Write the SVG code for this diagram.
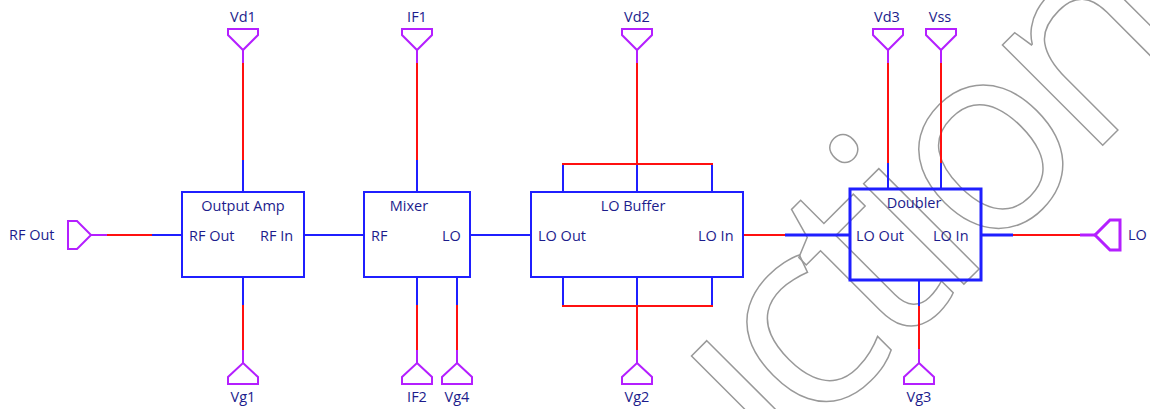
<svg xmlns="http://www.w3.org/2000/svg" width="1150" height="409" viewBox="0 0 1150 409">
<style>
.box{fill:none;stroke:#1f1fff;stroke-width:2}
.box3{fill:none;stroke:#1f1fff;stroke-width:3}
.b{stroke:#1f1fff;stroke-width:2;fill:none}
.b3{stroke:#1f1fff;stroke-width:3;fill:none}
.r{stroke:#ff1010;stroke-width:2;fill:none}
.p{stroke:#b41fff;stroke-width:2;fill:none}
.p3{stroke:#b41fff;stroke-width:3;fill:none}
text{font-family:"Open Sans","Liberation Sans",sans-serif;font-size:14.5px;fill:#1c1c8c}
.m{text-anchor:middle}
.wm{font-family:"Open Sans","Liberation Sans",sans-serif;font-size:265px;letter-spacing:-15px;fill:none;stroke:#999;stroke-width:1.5}
</style>
<defs><clipPath id="wmclip"><rect x="640" y="0" width="510" height="409"/></clipPath></defs>
<rect width="1150" height="409" fill="#fff"/>
<g id="watermark" clip-path="url(#wmclip)"><text class="wm" transform="translate(334,914) rotate(-45)">Production</text></g>
<g id="connectors">
<line class="p" x1="91" y1="235" x2="107" y2="235"/><line class="r" x1="107" y1="235" x2="152" y2="235"/><line class="b" x1="152" y1="235" x2="182" y2="235"/>
<line class="b" x1="304" y1="235" x2="364" y2="235"/>
<line class="b" x1="470" y1="235" x2="531" y2="235"/>
<line class="r" x1="743" y1="235" x2="785" y2="235"/><line class="b3" x1="785" y1="235" x2="850" y2="235"/>
<line class="b3" x1="981" y1="235" x2="1013" y2="235"/><line class="r" x1="1013" y1="235" x2="1080" y2="235"/><line class="p3" x1="1080" y1="235" x2="1095" y2="235"/>
<line class="p" x1="243" y1="50" x2="243" y2="63"/><line class="r" x1="243" y1="63" x2="243" y2="160"/><line class="b" x1="243" y1="160" x2="243" y2="192"/>
<line class="p" x1="417" y1="50" x2="417" y2="63"/><line class="r" x1="417" y1="63" x2="417" y2="160"/><line class="b" x1="417" y1="160" x2="417" y2="192"/>
<line class="p" x1="637" y1="50" x2="637" y2="63"/><line class="r" x1="637" y1="63" x2="637" y2="164"/>
<polyline class="b" points="563,192 563,164"/><polyline class="b" points="637,192 637,164"/><polyline class="b" points="712,192 712,164"/>
<line class="r" x1="562" y1="164" x2="713" y2="164"/>
<line class="p" x1="888" y1="50" x2="888" y2="63"/><line class="r" x1="888" y1="63" x2="888" y2="163"/><line class="b" x1="888" y1="163" x2="888" y2="189"/>
<line class="p" x1="941" y1="50" x2="941" y2="63"/><line class="r" x1="941" y1="63" x2="941" y2="163"/><line class="b" x1="941" y1="163" x2="941" y2="189"/>
<line class="b" x1="243" y1="277" x2="243" y2="305"/><line class="r" x1="243" y1="305" x2="243" y2="350"/><line class="p" x1="243" y1="350" x2="243" y2="363"/>
<line class="b" x1="417" y1="277" x2="417" y2="305"/><line class="r" x1="417" y1="305" x2="417" y2="350"/><line class="p" x1="417" y1="350" x2="417" y2="363"/>
<line class="b" x1="457" y1="277" x2="457" y2="305"/><line class="r" x1="457" y1="305" x2="457" y2="350"/><line class="p" x1="457" y1="350" x2="457" y2="363"/>
<polyline class="b" points="563,277 563,306"/><polyline class="b" points="637,277 637,306"/><polyline class="b" points="712,277 712,306"/>
<line class="r" x1="562" y1="306" x2="713" y2="306"/>
<line class="r" x1="637" y1="306" x2="637" y2="350"/><line class="p" x1="637" y1="350" x2="637" y2="363"/>
<line class="b" x1="919" y1="280" x2="919" y2="306"/><line class="r" x1="919" y1="306" x2="919" y2="349"/><line class="p" x1="919" y1="349" x2="919" y2="363"/>
</g>
<g id="port-rfout"><polygon class="p" points="68,221 77,221 91,235 77,249 68,249"/><text x="9" y="240">RF Out</text></g>
<g id="port-lo"><polygon class="p3" points="1095,235 1110,220 1120,220 1120,250 1110,250"/><text x="1128" y="240">LO</text></g>
<g id="port-vd1"><polygon class="p" points="228,29 258,29 258,35 243,50 228,35"/><text class="m" x="243" y="22">Vd1</text></g>
<g id="port-if1"><polygon class="p" points="402,29 432,29 432,35 417,50 402,35"/><text class="m" x="417" y="22">IF1</text></g>
<g id="port-vd2"><polygon class="p" points="622,29 652,29 652,35 637,50 622,35"/><text class="m" x="637" y="22">Vd2</text></g>
<g id="port-vd3"><polygon class="p" points="873,29 903,29 903,35 888,50 873,35"/><text class="m" x="887" y="22">Vd3</text></g>
<g id="port-vss"><polygon class="p" points="926,29 956,29 956,35 941,50 926,35"/><text class="m" x="940" y="22">Vss</text></g>
<g id="port-vg1"><polygon class="p" points="243,363 258,377 258,384 228,384 228,377"/><text class="m" x="243" y="402">Vg1</text></g>
<g id="port-if2"><polygon class="p" points="417,363 432,377 432,384 402,384 402,377"/><text class="m" x="417" y="402">IF2</text></g>
<g id="port-vg4"><polygon class="p" points="457,363 472,377 472,384 442,384 442,377"/><text class="m" x="457" y="402">Vg4</text></g>
<g id="port-vg2"><polygon class="p" points="637,363 652,377 652,384 622,384 622,377"/><text class="m" x="637" y="402">Vg2</text></g>
<g id="port-vg3"><polygon class="p" points="919,363 934,377 934,384 904,384 904,377"/><text class="m" x="919" y="402">Vg3</text></g>
<g id="output-amp"><rect class="box" x="182" y="192" width="122" height="85"/><text class="m" x="243" y="211">Output Amp</text><text x="189" y="241">RF Out</text><text x="260" y="241">RF In</text></g>
<g id="mixer"><rect class="box" x="364" y="192" width="106" height="85"/><text class="m" x="409" y="211">Mixer</text><text x="371" y="241">RF</text><text x="442" y="241">LO</text></g>
<g id="lo-buffer"><rect class="box" x="531" y="192" width="212" height="85"/><text class="m" x="633" y="211">LO Buffer</text><text x="538" y="241">LO Out</text><text x="698" y="241">LO In</text></g>
<g id="doubler"><rect class="box3" x="850" y="189" width="131" height="91"/><text class="m" x="914" y="208">Doubler</text><text x="856" y="241">LO Out</text><text x="933" y="241">LO In</text></g>
</svg>
